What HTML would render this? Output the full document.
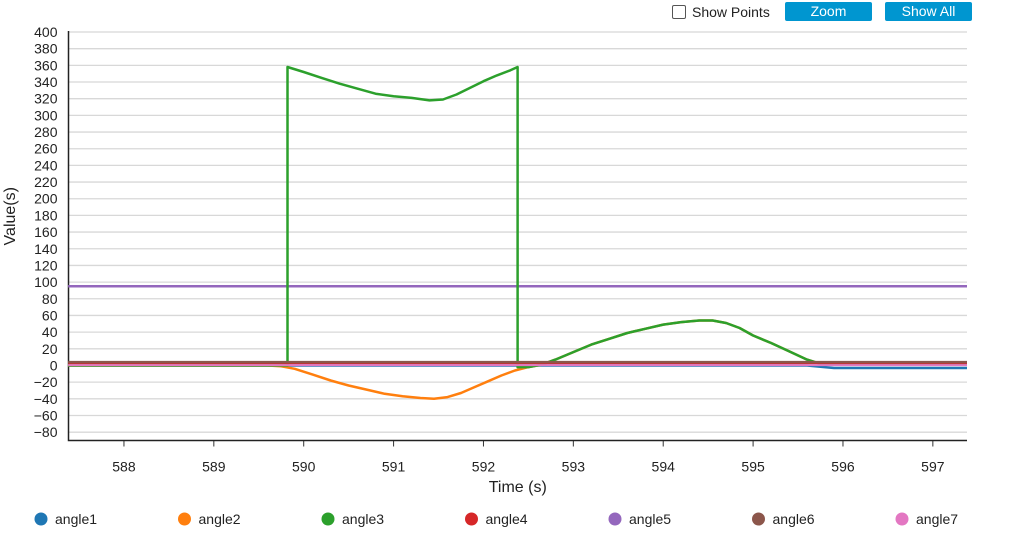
<!DOCTYPE html>
<html><head><meta charset="utf-8"><style>
body{margin:0;background:#fff;font-family:"Liberation Sans",sans-serif;}
#wrap{position:relative;width:1014px;height:534px;overflow:hidden}
.btn{position:absolute;top:2px;height:19px;background:#0096d0;color:#fff;font-size:14px;text-align:center;line-height:19px;border-radius:2px}
</style></head><body><div id="wrap">
<label style="position:absolute;left:672px;top:4px;font-size:14px;color:#222;display:flex;align-items:center">
<span style="display:inline-block;width:12px;height:12px;border:1px solid #555;border-radius:2px;margin-right:6px"></span>Show Points</label>
<div class="btn" style="left:785px;width:87px">Zoom</div>
<div class="btn" style="left:885px;width:87px">Show All</div>
<svg id="svg" width="1014" height="534" style="position:absolute;left:0;top:0"></svg>
</div>
<script>
const yTicks=[400,380,360,340,320,300,280,260,240,220,200,180,160,140,120,100,80,60,40,20,0,-20,-40,-60,-80];
const xTicks=[588,589,590,591,592,593,594,595,596,597];
const seriesNames=["angle1","angle2","angle3","angle4","angle5","angle6","angle7"];
const seriesColors=["#1f77b4","#ff7f0e","#2ca02c","#d62728","#9467bd","#8c564b","#e377c2"];
const t1=[587.38,595.6,595.75,595.9,597.38];
const v1=[0,0,-1.5,-3,-3];
const t2=[587.38,589.6,589.75,589.9,590.1,590.3,590.5,590.7,590.9,591.1,591.3,591.45,591.6,591.75,591.9,592.05,592.2,592.35,592.5,592.65,592.8,593.0,593.2,593.4,593.6,593.8,594.0,594.2,594.4,594.55,594.7,594.85,595.0,595.2,595.4,595.6,595.75,597.38];
const v2=[0,0,-1,-4,-11,-18,-24,-29,-34,-37,-39,-40,-38,-33,-26,-19,-12,-6,-2,1,7,16,25,32,39,44,49,52,54,54,51,45,36,27,17,7,2,2];
const t3=[587.38,589.82,589.82,590.0,590.2,590.4,590.6,590.8,591.0,591.2,591.4,591.55,591.7,591.85,592.0,592.15,592.3,592.38,592.38,592.5,592.65,592.8,593.0,593.2,593.4,593.6,593.8,594.0,594.2,594.4,594.55,594.7,594.85,595.0,595.2,595.4,595.6,595.75,597.38];
const v3=[0,0,358,352,345,338,332,326,323,321,318,319,325,333,341,348,354,358,-2,-2,1,7,16,25,32,39,44,49,52,54,54,51,45,36,27,17,7,2,2];
const t4=[587.38,597.38];const v4=[3,3];
const t5=[587.38,597.38];const v5=[95,95];
const t6=[587.38,597.38];const v6=[4,4];
const t7=[587.38,597.38];const v7=[0.5,0.5];
const L=68.5,R=967,T=32,B=440.5,xMin=587.383,xMax=597.38,yMin=-90,yMax=400;
const X=v=>L+(v-xMin)/(xMax-xMin)*(R-L);
const Y=v=>T+(yMax-v)/(yMax-yMin)*(B-T);
const svg=document.getElementById('svg');const NS="http://www.w3.org/2000/svg";
function mk(tag,attrs,parent){const e=document.createElementNS(NS,tag);for(const k in attrs)e.setAttribute(k,attrs[k]);(parent||svg).appendChild(e);return e;}
yTicks.forEach(v=>{
const g=mk('line',{x1:L,x2:R,y1:Y(v),y2:Y(v),stroke:'#d8d8d8','stroke-width':1.3});


const t=mk('text',{x:L-11,y:Y(v)+5,'text-anchor':'end','font-size':14,fill:'#222'});t.textContent=v<0?'\u2212'+(-v):v;


});
xTicks.forEach(v=>{
const tk=mk('line',{x1:X(v),x2:X(v),y1:B,y2:B+6,stroke:'#333'});


const t=mk('text',{x:X(v),y:B+31,'text-anchor':'middle','font-size':14,fill:'#222'});t.textContent=v;


});
const ax=mk('path',{d:`M${L},${T-1}V${B}H${R}`,fill:'none',stroke:'#222','stroke-width':1.5});


const xt=mk('text',{x:(L+R)/2,y:492,'text-anchor':'middle','font-size':16,fill:'#222'});xt.textContent='Time (s)';


const yt=mk('text',{x:0,y:0,'text-anchor':'middle','font-size':16,fill:'#222',transform:`translate(15,${(T+B)/2-20}) rotate(-90)`});yt.textContent='Value(s)';


const ts=[t1,t2,t3,t4,t5,t6,t7],vs=[v1,v2,v3,v4,v5,v6,v7];
const order=[4,0,1,2,3,5,6];
order.forEach(i=>{
const d=ts[i].map((t,j)=>(j?'L':'M')+X(t).toFixed(1)+','+Y(vs[i][j]).toFixed(1)).join('');
const p=mk('path',{d:d,fill:'none',stroke:seriesColors[i],'stroke-width':i==6?2:2.5,'stroke-linejoin':'round'});


});
seriesNames.forEach((n,i)=>{
const cx=41+i*143.5;
const c=mk('circle',{cx:cx,cy:519,r:6.5,fill:seriesColors[i]});


const t=mk('text',{x:cx+14,y:524,'font-size':14,fill:'#222'});t.textContent=n;


});
</script></body></html>
